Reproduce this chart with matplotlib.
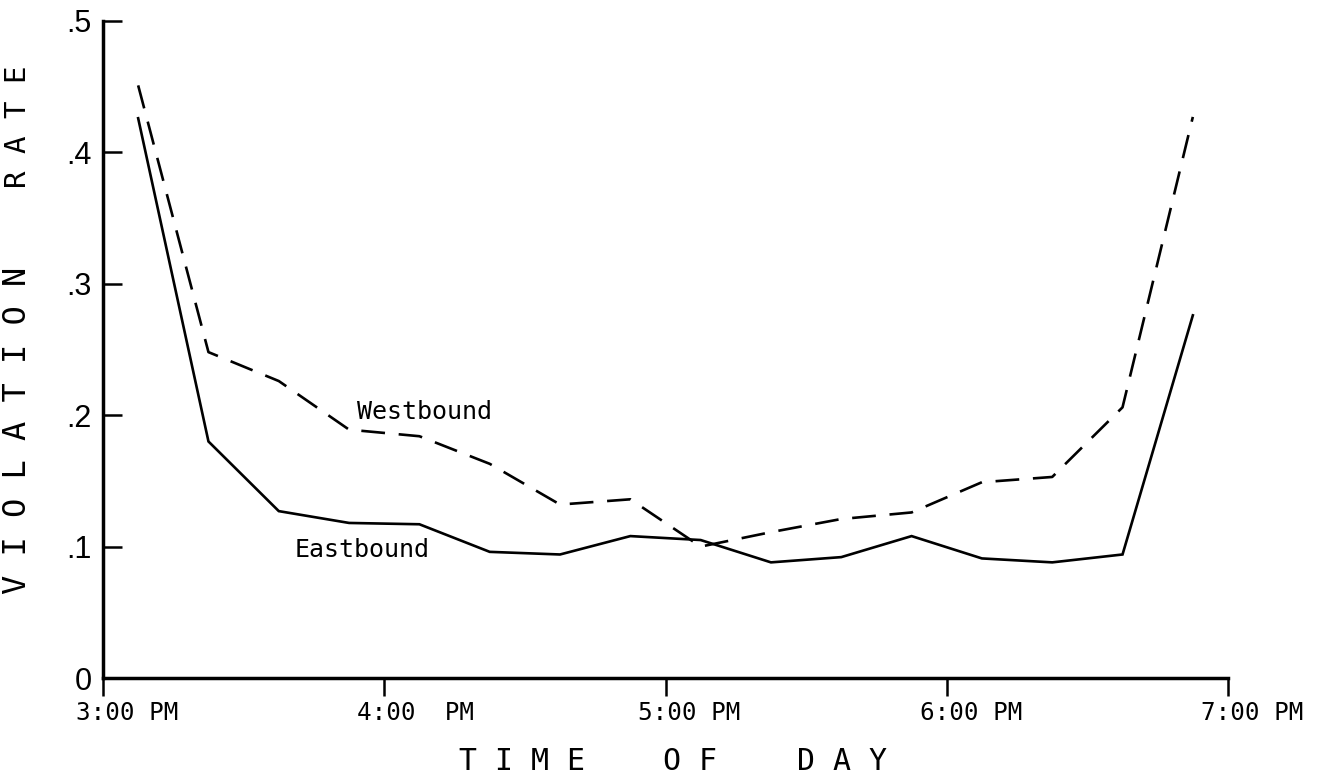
import matplotlib
matplotlib.use("Agg")
import matplotlib.pyplot as plt
import matplotlib.transforms as mtransforms

# ---- data ----
times = [15.125, 15.375, 15.625, 15.875, 16.125, 16.375, 16.625, 16.875,
         17.125, 17.375, 17.625, 17.875, 18.125, 18.375, 18.625, 18.875]
eastbound = [0.426, 0.180, 0.127, 0.118, 0.117, 0.096, 0.094, 0.108,
             0.105, 0.088, 0.092, 0.108, 0.091, 0.088, 0.094, 0.276]
westbound = [0.451, 0.248, 0.226, 0.189, 0.184, 0.163, 0.132, 0.136,
             0.100, 0.111, 0.121, 0.126, 0.149, 0.153, 0.206, 0.427]
x_ticks = [15, 16, 17, 18, 19]
x_tick_labels = ["3:00 PM", "4:00  PM", "5:00 PM", "6:00 PM", "7:00 PM"]
y_ticks = [0, 0.1, 0.2, 0.3, 0.4, 0.5]
y_tick_labels = ["0", ".1", ".2", ".3", ".4", ".5"]

W, H, DPI = 1319, 777, 100
fig = plt.figure(figsize=(W / DPI, H / DPI), dpi=DPI)
fig.patch.set_facecolor("white")
ax = fig.add_axes([103 / W, 1 - 678 / H, (1228 - 103) / W, (678 - 21) / H])

mono = "DejaVu Sans Mono"

ax.plot(times, eastbound, color="black", lw=1.9, solid_joinstyle="miter", clip_on=False)
ax.plot(times, westbound, color="black", lw=1.9, dashes=(9, 5.2), clip_on=False)

ax.set_xlim(15, 19)
ax.set_ylim(0, 0.5)

for s in ["top", "right"]:
    ax.spines[s].set_visible(False)
for s in ["left", "bottom"]:
    ax.spines[s].set_linewidth(2.5)
    ax.spines[s].set_capstyle("projecting")

ax.set_yticks(y_ticks)
ax.set_yticklabels(y_tick_labels, fontfamily="Liberation Sans", fontsize=22)
ax.tick_params(axis="y", direction="in", length=14, width=1.8, pad=8)

ax.set_xticks(x_ticks)
ax.set_xticklabels(x_tick_labels, fontfamily=mono, fontsize=17.5, ha="left")
ax.tick_params(axis="x", direction="out", length=13, width=1.8, pad=3.5)
shift = mtransforms.ScaledTranslation(-27 / DPI, 0, fig.dpi_scale_trans)
for lbl in ax.get_xticklabels():
    lbl.set_transform(lbl.get_transform() + shift)

# line labels
ax.text(15.903, 0.2024, "Westbound", fontfamily=mono, fontsize=18, va="center", ha="left")
ax.text(15.683, 0.0974, "Eastbound", fontfamily=mono, fontsize=18, va="center", ha="left")

# axis titles (typewriter spaced)
fig.text(18 / W, 1 - 430 / H, "V I O L A T I O N", rotation=90, fontfamily=mono,
         fontsize=23, ha="center", va="center")
fig.text(18 / W, 1 - 127 / H, "R A T E", rotation=90, fontfamily=mono,
         fontsize=21, ha="center", va="center")
fig.text(522 / W, 1 - 762 / H, "T I M E", fontfamily=mono, fontsize=21.5, ha="center", va="center")
fig.text(690 / W, 1 - 762 / H, "O F", fontfamily=mono, fontsize=21.5, ha="center", va="center")
fig.text(842 / W, 1 - 762 / H, "D A Y", fontfamily=mono, fontsize=21.5, ha="center", va="center")

fig.savefig("out.png", dpi=DPI, facecolor="white")
